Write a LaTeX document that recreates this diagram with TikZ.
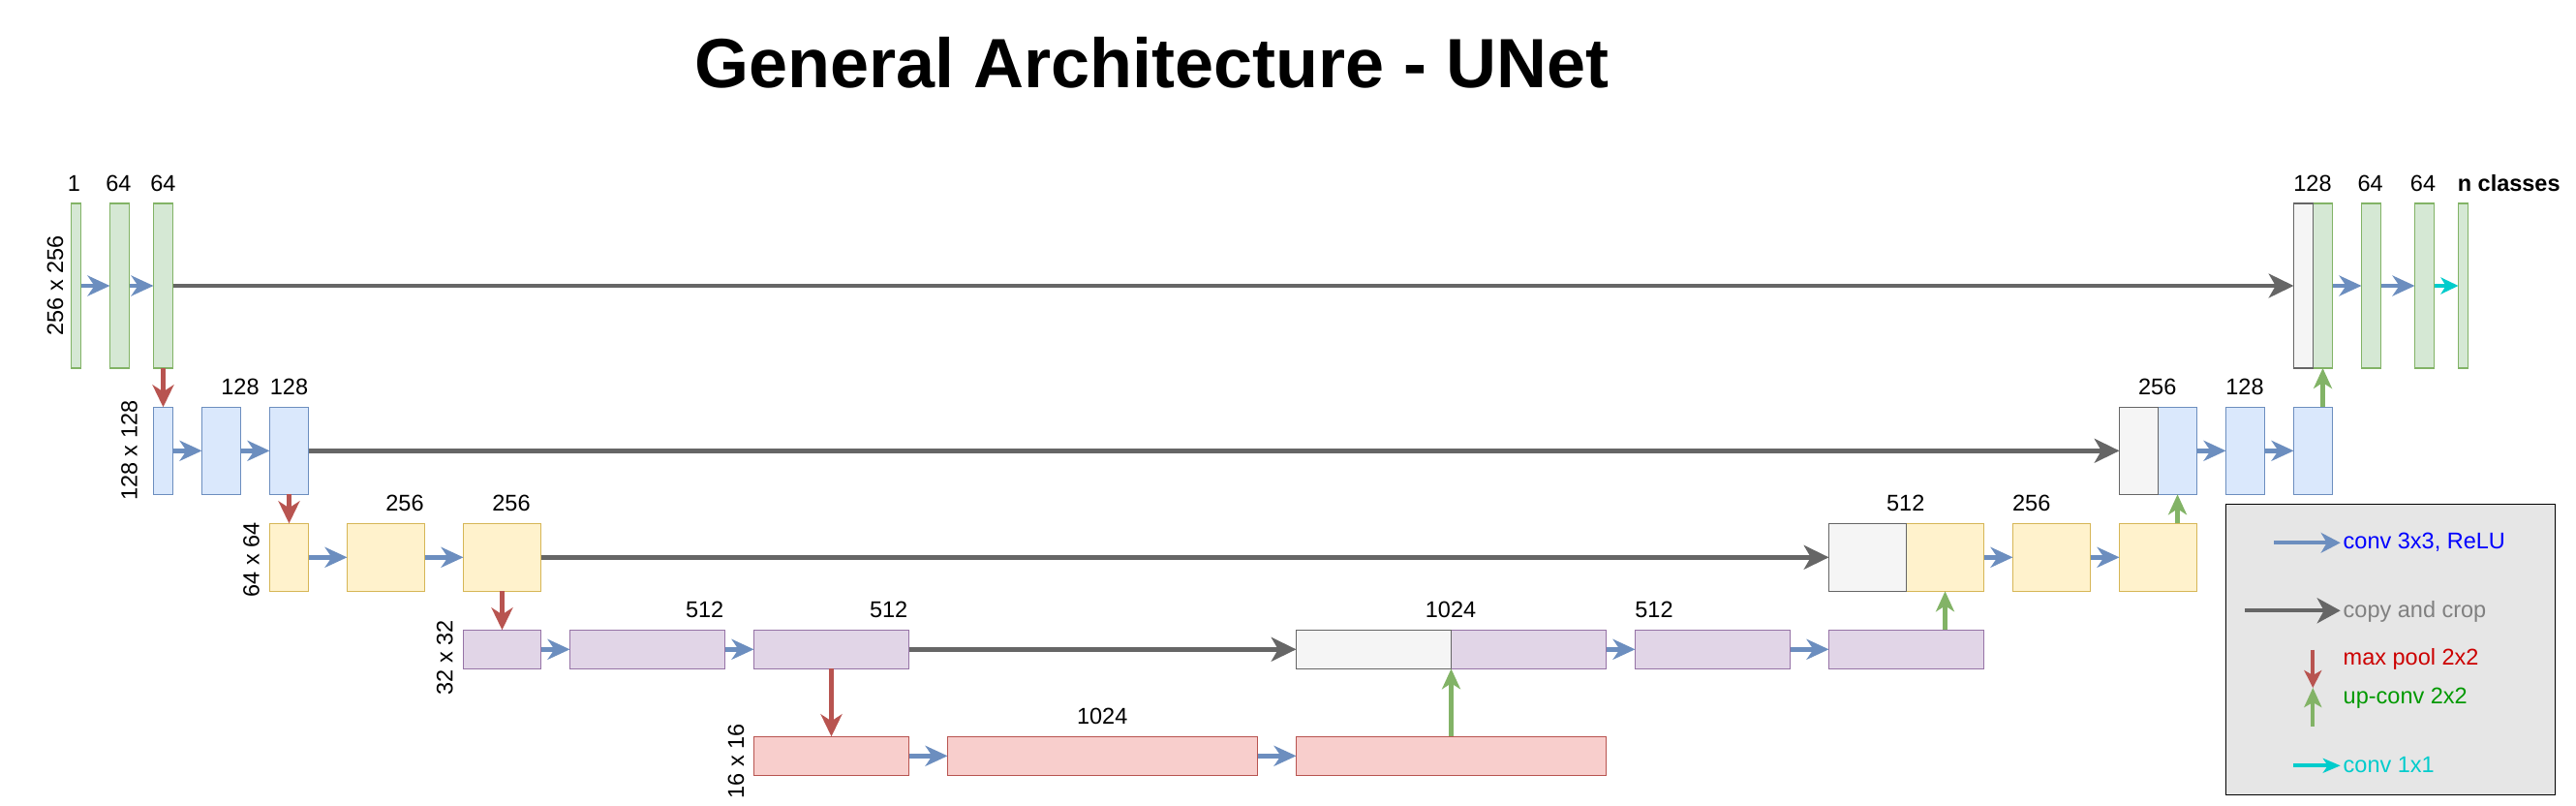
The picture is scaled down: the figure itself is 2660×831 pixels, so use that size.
\documentclass[tikz,border=0pt]{standalone}
\usepackage{fontspec}
\setmainfont{Liberation Sans}
\usetikzlibrary{arrows.meta}
\definecolor{gfill}{HTML}{D5E8D4}\definecolor{gdraw}{HTML}{82B366}
\definecolor{bfill}{HTML}{DAE8FC}\definecolor{bdraw}{HTML}{6C8EBF}
\definecolor{yfill}{HTML}{FFF2CC}\definecolor{ydraw}{HTML}{D6B656}
\definecolor{pfill}{HTML}{E1D5E7}\definecolor{pdraw}{HTML}{9673A6}
\definecolor{rfill}{HTML}{F8CECC}\definecolor{rdraw}{HTML}{B85450}
\definecolor{cfill}{HTML}{F5F5F5}\definecolor{cdraw}{HTML}{666666}
\definecolor{convc}{HTML}{6C8EBF}\definecolor{copyc}{HTML}{666666}
\definecolor{poolc}{HTML}{B85450}\definecolor{upc}{HTML}{82B366}
\definecolor{onec}{HTML}{00CCCC}\definecolor{legfill}{HTML}{E6E6E6}
\definecolor{tblue}{HTML}{0000FF}\definecolor{tgray}{HTML}{808080}
\definecolor{tred}{HTML}{CC0000}\definecolor{tgreen}{HTML}{009900}
\begin{document}
\begin{tikzpicture}[x=1pt,y=-1pt,
  bx/.style={draw, line width=1.2pt, inner sep=0pt, outer sep=0pt, anchor=north west},
  gb/.style={bx, draw=gdraw, fill=gfill},
  bb/.style={bx, draw=bdraw, fill=bfill},
  yb/.style={bx, draw=ydraw, fill=yfill},
  pb/.style={bx, draw=pdraw, fill=pfill},
  rb/.style={bx, draw=rdraw, fill=rfill},
  cb/.style={bx, draw=cdraw, fill=cfill},
  hA/.style={minimum height=170pt},
  hB/.style={minimum height=90pt},
  hC/.style={minimum height=70pt},
  hD/.style={minimum height=40pt},
  wa/.style={minimum width=10pt},
  wb/.style={minimum width=20pt},
  wc/.style={minimum width=40pt},
  wd/.style={minimum width=80pt},
  we/.style={minimum width=160pt},
  wf/.style={minimum width=320pt},
  conv/.style={draw=convc, line width=4.7pt, -{Stealth[length=23pt,width=21pt,inset=7pt]}},
  copyarr/.style={draw=copyc, line width=4.7pt, -{Stealth[length=25.7pt,width=24.7pt,inset=7pt]}},
  pool/.style={draw=poolc, line width=4.5pt, -{Stealth[length=23pt,width=22pt,inset=7pt]}},
  upconv/.style={draw=upc, line width=4.3pt, -{Stealth[length=21pt,width=19pt,inset=6pt]}},
  oneconv/.style={draw=onec, line width=4pt, -{Stealth[length=18pt,width=17pt,inset=5pt]}},
  lbl/.style={font=\fontsize{23.5}{28}\selectfont, inner sep=0pt, anchor=base},
  rlbl/.style={lbl, rotate=90},
  ltxt/.style={font=\fontsize{23.5}{28}\selectfont, inner sep=0pt, anchor=base west}
]
\useasboundingbox (0,0) rectangle (2660,831);

% title
\node[inner sep=0pt, anchor=base, font=\fontsize{72}{80}\selectfont\bfseries] (title) at (1189.7,90) {General Architecture - UNet};

% level 1
\node[gb,hA,wa] (g1) at (73.5,210) {};
\node[gb,hA,wb] (g2) at (113.5,210) {};
\node[gb,hA,wb] (g3) at (158.5,210) {};
\node[gb,hA,wb] (gg) at (2388.5,210) {};
\node[cb,hA,wb] (gc) at (2368.5,210) {};
\node[gb,hA,wb] (g4) at (2438.5,210) {};
\node[gb,hA,wb] (g5) at (2493.5,210) {};
\node[gb,hA,wa] (g6) at (2538.5,210) {};

% level 2
\node[bb,hB,wb] (b1) at (158.5,420.3) {};
\node[bb,hB,wc] (b2) at (208.5,420.3) {};
\node[bb,hB,wc] (b3) at (278.5,420.3) {};
\node[bb,hB,wc] (bbx) at (2228.5,420.3) {};
\node[cb,hB,wc] (bc) at (2188.5,420.3) {};
\node[bb,hB,wc] (b4) at (2298.5,420.3) {};
\node[bb,hB,wc] (b5) at (2368.5,420.3) {};

% level 3
\node[yb,hC,wc] (y1) at (278.5,540.3) {};
\node[yb,hC,wd] (y2) at (358.5,540.3) {};
\node[yb,hC,wd] (y3) at (478.5,540.3) {};
\node[yb,hC,wd] (yy) at (1968.5,540.3) {};
\node[cb,hC,wd] (yc) at (1888.5,540.3) {};
\node[yb,hC,wd] (y4) at (2078.5,540.3) {};
\node[yb,hC,wd] (y5) at (2188.5,540.3) {};

% level 4
\node[pb,hD,wd] (p1) at (478.5,650.3) {};
\node[pb,hD,we] (p2) at (588.5,650.3) {};
\node[pb,hD,we] (p3) at (778.5,650.3) {};
\node[pb,hD,we] (pp) at (1498.5,650.3) {};
\node[cb,hD,we] (pc) at (1338.5,650.3) {};
\node[pb,hD,we] (p4) at (1688.5,650.3) {};
\node[pb,hD,we] (p5) at (1888.5,650.3) {};

% level 5
\node[rb,hD,we] (r1) at (778.5,760.3) {};
\node[rb,hD,wf] (r2) at (978.5,760.3) {};
\node[rb,hD,wf] (r3) at (1338.5,760.3) {};

% channel labels
\node[lbl] (t1) at (76.5,197.3) {1};
\node[lbl] (t2) at (122.5,197.3) {64};
\node[lbl] (t3) at (168.4,197.3) {64};
\node[lbl] (t4) at (2388,197.3) {128};
\node[lbl] (t5) at (2447.7,197.3) {64};
\node[lbl] (t6) at (2502,197.3) {64};
\node[lbl, font=\fontsize{23.5}{28}\selectfont\bfseries] (t7) at (2590.7,197.3) {n classes};
\node[lbl] (t8) at (248,407.3) {128};
\node[lbl] (t9) at (298.5,407.3) {128};
\node[lbl] (t10) at (2227.7,407.3) {256};
\node[lbl] (t11) at (2318,407.3) {128};
\node[lbl] (t12) at (418,527.3) {256};
\node[lbl] (t13) at (528,527.3) {256};
\node[lbl] (t14) at (1967.7,527.3) {512};
\node[lbl] (t15) at (2097.7,527.3) {256};
\node[lbl] (t16) at (727.6,637) {512};
\node[lbl] (t17) at (917.7,637) {512};
\node[lbl] (t18) at (1498,637) {1024};
\node[lbl] (t19) at (1708,637) {512};
\node[lbl] (t20) at (1138.2,747) {1024};

% size labels
\node[rlbl] (s1) at (65,295) {256 x 256};
\node[rlbl] (s2) at (141.6,465.3) {128 x 128};
\node[rlbl] (s3) at (267.5,578) {64 x 64};
\node[rlbl] (s4) at (467.3,678.7) {32 x 32};
\node[rlbl] (s5) at (768,786) {16 x 16};

% conv arrows
\draw[conv] (g1.east) -- (g2.west);
\draw[conv] (g2.east) -- (g3.west);
\draw[conv] (gg.east) -- (g4.west);
\draw[conv] (g4.east) -- (g5.west);
\draw[oneconv] (g5.east) -- (g6.west);
\draw[conv] (b1.east) -- (b2.west);
\draw[conv] (b2.east) -- (b3.west);
\draw[conv] (bbx.east) -- (b4.west);
\draw[conv] (b4.east) -- (b5.west);
\draw[conv] (y1.east) -- (y2.west);
\draw[conv] (y2.east) -- (y3.west);
\draw[conv] (yy.east) -- (y4.west);
\draw[conv] (y4.east) -- (y5.west);
\draw[conv] (p1.east) -- (p2.west);
\draw[conv] (p2.east) -- (p3.west);
\draw[conv] (pp.east) -- (p4.west);
\draw[conv] (p4.east) -- (p5.west);
\draw[conv] (r1.east) -- (r2.west);
\draw[conv] (r2.east) -- (r3.west);

% copy and crop
\draw[copyarr] (g3.east) -- (gc.west);
\draw[copyarr] (b3.east) -- (bc.west);
\draw[copyarr] (y3.east) -- (yc.west);
\draw[copyarr] (p3.east) -- (pc.west);

% max pool
\draw[pool] (g3.south) -- (b1.north);
\draw[pool] (b3.south) -- (y1.north);
\draw[pool] (y3.south) -- (p1.north);
\draw[pool] (p3.south) -- (r1.north);

% up-conv
\draw[upconv] (r3.north) -- (pp.south west);
\draw[upconv] (p5.north -| yy.south) -- (yy.south);
\draw[upconv] (y5.north -| bbx.south) -- (bbx.south);
\draw[upconv] (b5.north -| gg.south) -- (gg.south);

% legend
\node[bx, draw=black, fill=legfill, minimum width=340.4pt, minimum height=300pt] (legend) at (2298.3,520.3) {};
\coordinate (la1) at (2348.3,560.3); \coordinate (lb1) at (2416.7,560.3);
\coordinate (la2) at (2318.3,630.3); \coordinate (lb2) at (2416.7,630.3);
\coordinate (la3) at (2388.3,670.7); \coordinate (lb3) at (2388.3,710);
\coordinate (la4) at (2388.3,750);   \coordinate (lb4) at (2388.3,710);
\coordinate (la5) at (2368.3,790.3); \coordinate (lb5) at (2416.7,790.3);
\draw[draw=convc, line width=4.3pt, -{Stealth[length=20pt,width=20.7pt,inset=6pt]}] (la1) -- (lb1);
\draw[draw=copyc, line width=4.3pt, -{Stealth[length=24pt,width=26pt,inset=7pt]}] (la2) -- (lb2);
\draw[draw=poolc, line width=3.8pt, -{Stealth[length=18pt,width=18pt,inset=5pt]}] (la3) -- (lb3);
\draw[draw=upc, line width=3.8pt, -{Stealth[length=20pt,width=18pt,inset=5pt]}] (la4) -- (lb4);
\draw[draw=onec, line width=4pt, -{Stealth[length=18pt,width=15pt,inset=5pt]}] (la5) -- (lb5);
\node[ltxt, text=tblue] (lt1) at (2419.5,566.7) {conv 3x3, ReLU};
\node[ltxt, text=tgray] (lt2) at (2419.5,637.3) {copy and crop};
\node[ltxt, text=tred] (lt3) at (2419.5,686.7) {max pool 2x2};
\node[ltxt, text=tgreen] (lt4) at (2419.5,726.7) {up-conv 2x2};
\node[ltxt, text=onec] (lt5) at (2419.5,797.3) {conv 1x1};
\end{tikzpicture}
\end{document}
